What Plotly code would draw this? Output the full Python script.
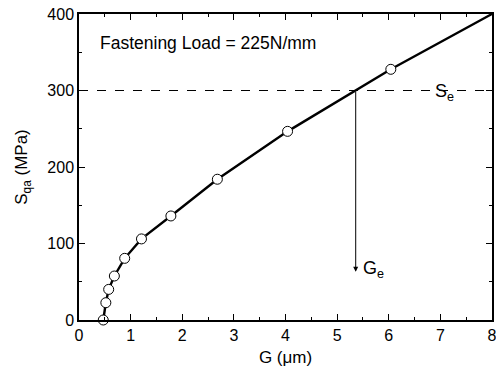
import plotly.graph_objects as go

# Measured points
G_pts = [0.47, 0.52, 0.575, 0.685, 0.885, 1.21, 1.78, 2.68, 4.04, 6.04]
S_pts = [0, 22.6, 40, 57.5, 80.6, 106, 136, 184, 246.6, 327.7]
# Line continues to the top-right corner
G_end = [8.0]
S_end = [400]
# Endurance stress and resulting G
S_e = 300
G_e = 5.36
G_e_arrow_end = 63

x_ticks = [0, 1, 2, 3, 4, 5, 6, 7, 8]
y_ticks = [0, 100, 200, 300, 400]

FONT = "Arial, Liberation Sans, Helvetica, sans-serif"

fig = go.Figure()
fig.add_trace(go.Scatter(x=[0, 8], y=[S_e, S_e], mode="lines",
                         line=dict(color="black", width=1, dash="dash"),
                         showlegend=False))
fig.add_trace(go.Scatter(x=G_pts + G_end, y=S_pts + S_end, mode="lines",
                         line=dict(color="black", width=2.4), showlegend=False))
fig.add_trace(go.Scatter(x=G_pts, y=S_pts, mode="markers",
                         marker=dict(symbol="circle", size=10, color="white",
                                     line=dict(color="black", width=1)),
                         showlegend=False, cliponaxis=False))

fig.add_annotation(x=G_e, y=G_e_arrow_end, ax=G_e, ay=S_e, xref="x", yref="y",
                   axref="x", ayref="y", showarrow=True, arrowhead=2,
                   arrowsize=1, arrowwidth=1, arrowcolor="black", text="")
fig.add_annotation(x=G_e, y=G_e_arrow_end, xref="x", yref="y", text="G<sub>e</sub>",
                   showarrow=False, xanchor="left", xshift=5, yshift=2,
                   font=dict(family=FONT, size=18, color="black"))
fig.add_annotation(x=7.08, y=S_e, xref="x", yref="y", text="S<sub>e</sub>",
                   showarrow=False, xanchor="center", yshift=-2,
                   font=dict(family=FONT, size=18, color="black"))
fig.add_annotation(x=0.36, y=362, xref="x", yref="y",
                   text="Fastening Load = 225N/mm", showarrow=False,
                   xanchor="left", font=dict(family=FONT, size=17.5, color="black"))

axis_common = dict(showgrid=False, zeroline=False, showline=True, linecolor="black",
                   linewidth=1.5, mirror="ticks", ticks="inside", ticklen=6,
                   tickwidth=1, tickcolor="black", automargin=False,
                   ticklabeloverflow="allow",
                   tickfont=dict(family=FONT, size=16, color="black"))

fig.update_xaxes(range=[0, 8], tickvals=x_ticks,
                 minor=dict(ticks="inside", dtick=0.5, ticklen=3, tickcolor="black"),
                 title=dict(text="G (\u03bcm)", font=dict(family=FONT, size=17, color="black"),
                            standoff=8),
                 **axis_common)
fig.update_yaxes(range=[0, 400], tickvals=y_ticks,
                 minor=dict(ticks="inside", dtick=50, ticklen=3, tickcolor="black"),
                 title=dict(text="S<sub>qa</sub> (MPa)",
                            font=dict(family=FONT, size=17, color="black"), standoff=15),
                 **axis_common)

fig.update_layout(width=496, height=377, margin=dict(l=79, r=4, t=14, b=57),
                  plot_bgcolor="white", paper_bgcolor="white",
                  font=dict(family=FONT, color="black"))

fig.write_html("out.html", config={"displayModeBar": False},
               post_script="document.body.style.margin='0';document.body.style.overflow='hidden';")
